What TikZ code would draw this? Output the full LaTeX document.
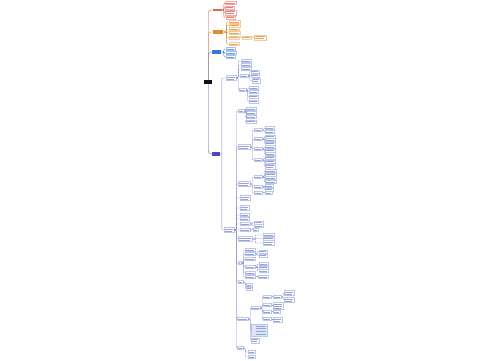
\documentclass[tikz,border=0pt]{standalone}
\usetikzlibrary{calc}
\definecolor{lfc}{HTML}{B9C6EE}
\definecolor{txc}{HTML}{9AA2D2}
\definecolor{cnc}{HTML}{8C8CD6}
\definecolor{rootc}{HTML}{111111}
\definecolor{redc}{HTML}{E0463C}
\definecolor{orc}{HTML}{E8892A}
\definecolor{bluec}{HTML}{3A78D8}
\definecolor{purc}{HTML}{4B4BB8}
\definecolor{listc}{HTML}{DCE5FA}
\tikzset{
  leaf/.style={draw=lfc, line width=0.2pt, inner sep=0pt, minimum height=3pt, anchor=west,
    path picture={\draw[txc,line width=0.6pt] ([xshift=0.8pt]path picture bounding box.west) -- ([xshift=-0.8pt]path picture bounding box.east);}},
  leaftwo/.style={leaf, minimum height=5pt,
    path picture={\draw[txc,line width=0.5pt] ([xshift=0.8pt,yshift=1.1pt]path picture bounding box.west) -- ([xshift=-0.8pt,yshift=1.1pt]path picture bounding box.east)
      ([xshift=0.8pt,yshift=-1.1pt]path picture bounding box.west) -- ([xshift=-2pt,yshift=-1.1pt]path picture bounding box.east);}},
  leafthree/.style={leaf, minimum height=7pt,
    path picture={\draw[txc,line width=0.5pt] ([xshift=0.8pt,yshift=2pt]path picture bounding box.west) -- ([xshift=-0.8pt,yshift=2pt]path picture bounding box.east)
      ([xshift=0.8pt]path picture bounding box.west) -- ([xshift=-0.8pt]path picture bounding box.east)
      ([xshift=0.8pt,yshift=-2pt]path picture bounding box.west) -- ([xshift=-2.5pt,yshift=-2pt]path picture bounding box.east);}},
  listbox/.style={leaf, fill=listc, draw=lfc, minimum height=12pt,
    path picture={\foreach \k in {4.2,1.4,-1.4,-4.2}{\draw[txc,line width=0.5pt] ([xshift=5pt,yshift=\k pt]path picture bounding box.west) -- ([xshift=-1pt,yshift=\k pt]path picture bounding box.east);}}},
  mainbox/.style={inner sep=0pt, minimum height=3.5pt, anchor=west, draw=none},
  conn/.style={draw=cnc, line width=0.35pt, rounded corners=1pt},
}
\newcommand\Lf[5][leaf]{\node[#1,minimum width=#5pt] (#2) at (#3,#4) {};}
\newcommand\Cn[3][2]{\draw[conn] (#2.east) -- ++(#1,0) |- (#3.west);}
\begin{document}
\begin{tikzpicture}[x=1pt,y=-1pt]
\fill[white] (0,0) rectangle (500,360);
\useasboundingbox (0,0) rectangle (500,360);
% root and main branches
\node[mainbox, fill=rootc, minimum width=8pt] (R) at (204,82) {};
\node[mainbox, fill=redc!85, minimum width=9pt, minimum height=2.5pt] (Rd) at (213,10) {};
\node[mainbox, fill=orc, minimum width=10pt] (Or) at (213,32) {};
\node[mainbox, fill=bluec, minimum width=9pt] (Bt) at (212,52) {};
\node[mainbox, fill=purc, minimum width=8pt] (Bf) at (212,154) {};
\draw[conn, draw=redc, rounded corners=3pt] (R.north) |- (Rd.west);
\draw[conn, draw=orc, rounded corners=3pt] (R.north) |- (Or.west);
\draw[conn, draw=bluec, rounded corners=3pt] (R.north) |- (Bt.west);
\draw[conn, draw=purc, rounded corners=3pt] (R.south) |- (Bf.west);
% red branch
\begin{scope}
\colorlet{lfc}{redc!45}\colorlet{txc}{redc!70}\colorlet{cnc}{redc}
\Lf{rc1}{225}{3}{11}
\Lf{rc2}{225}{7.5}{9}
\Lf[leaftwo]{rc3}{225}{12.5}{11}
\Lf{rc4}{226}{17.5}{9}
\foreach \c in {rc1,rc2,rc3,rc4}{\Cn[1.5]{Rd}{\c}}
\end{scope}
% orange branch
\begin{scope}
\colorlet{lfc}{orc!45}\colorlet{txc}{orc!80}\colorlet{cnc}{orc}
\Lf{oc1}{229}{22}{11}
\Lf{oc2}{229}{25.5}{11}
\Lf{oc3}{229}{29}{10}
\Lf{oc4}{229}{33}{11}
\Lf{oc5}{229}{37.5}{10}
\Lf{oc6}{229}{44}{10}
\Lf{oc5a}{242}{37.5}{9}
\Lf[leaftwo]{oc5b}{254}{37.5}{12}
\foreach \c in {oc1,oc2,oc3,oc4,oc5,oc6}{\Cn[3]{Or}{\c}}
\Cn{oc5}{oc5a}
\Cn{oc5a}{oc5b}
\end{scope}
% blue branch
\begin{scope}
\colorlet{lfc}{bluec!45}\colorlet{txc}{bluec!70}\colorlet{cnc}{bluec}
\Lf{b31}{226}{49}{9}
\Lf{b32}{226}{53}{10}
\Lf{b33}{226}{57}{9}
\foreach \c in {b31,b32,b33}{\Cn[2.5]{Bt}{\c}}
\end{scope}
% big branch
\Lf[leaftwo]{A}{226}{78}{10}
\Lf[leaftwo]{B}{224}{230}{10}
\Cn[1.5]{Bf}{A}
\Cn[1.5]{Bf}{B}
% A subtree
\Lf{a1}{241}{61}{10}
\Lf{a2}{241}{65}{10}
\Lf{a3}{241}{69}{10}
\Lf{a4}{240}{76}{8}
\Lf{a5}{239}{90}{7}
\foreach \c in {a1,a2,a3,a4,a5}{\Cn{A}{\c}}
\Lf{a4a}{251}{71.5}{8}
\Lf{a4b}{251}{75.5}{8}
\Lf[leaftwo]{a4c}{252}{80.5}{8}
\foreach \c in {a4a,a4b,a4c}{\Cn[1.5]{a4}{\c}}
\Lf{a5a}{249}{88}{9}
\Lf{a5b}{249}{92}{9}
\Lf{a5c}{249}{96.5}{9}
\Lf{a5d}{249}{101.5}{9}
\foreach \c in {a5a,a5b,a5c,a5d}{\Cn[1.5]{a5}{\c}}
% B subtree
\Lf{b1}{238}{111}{6}
\Lf[leaftwo]{b2}{238}{147}{12}
\Lf[leaftwo]{b3}{238}{184}{12}
\Lf[leaftwo]{b4}{240}{198}{10}
\Lf[leaftwo]{b5}{240}{208}{9}
\Lf{b6}{240}{215}{9}
\Lf{b7}{240}{219}{9}
\Lf{b8}{240}{224}{10}
\Lf{b9}{240}{230}{10}
\Lf[leaftwo]{b10}{238}{239}{14}
\Lf{b11}{238}{263}{3}
\Lf{b12}{238}{282}{5}
\Lf{D}{237}{319}{11}
\Lf{F}{237}{348}{6}
\foreach \c in {b1,b2,b3,b4,b5,b6,b7,b8,b9,b10,b11,b12,D,F}{\Cn{B}{\c}}
% b1
\Lf{b1a}{246}{109}{10}
\Lf{b1b}{246}{113}{10}
\Lf{b1c}{246}{117}{10}
\Lf{b1d}{246}{121.5}{10}
\foreach \c in {b1a,b1b,b1c,b1d}{\Cn{b1}{\c}}
% b2
\Lf{b2a}{254}{130}{8}
\Lf{b2b}{254}{139}{8}
\Lf{b2c}{254}{149}{8}
\Lf{b2d}{254}{160}{8}
\foreach \c in {b2a,b2b,b2c,b2d}{\Cn{b2}{\c}}
\Lf{b2a1}{265}{128}{9}
\Lf{b2a2}{265}{132}{9}
\foreach \c in {b2a1,b2a2}{\Cn{b2a}{\c}}
\Lf{b2b1}{265}{136.5}{10}
\Lf{b2b2}{265}{140}{10}
\Lf{b2b3}{265}{143.5}{10}
\foreach \c in {b2b1,b2b2,b2b3}{\Cn{b2b}{\c}}
\Lf{b2c1}{265}{147}{10}
\Lf{b2c2}{265}{150.5}{10}
\Lf{b2c3}{265}{154}{10}
\foreach \c in {b2c1,b2c2,b2c3}{\Cn{b2c}{\c}}
\Lf{b2d1}{265}{157.5}{10}
\Lf{b2d2}{265}{161.5}{10}
\Lf[leaftwo]{b2d3}{265}{166.5}{10}
\foreach \c in {b2d1,b2d2,b2d3}{\Cn{b2d}{\c}}
% b3
\Lf{b3a}{254}{177}{8}
\Lf{b3b}{254}{187}{8}
\Lf{b3c}{254}{193}{8}
\foreach \c in {b3a,b3b,b3c}{\Cn{b3}{\c}}
\Lf{b3a1}{265}{171}{11}
\Lf{b3a2}{265}{174.5}{11}
\Lf{b3a3}{265}{178}{11}
\Lf{b3a4}{265}{182}{11}
\foreach \c in {b3a1,b3a2,b3a3,b3a4}{\Cn{b3a}{\c}}
\Lf{b3b1}{265}{186}{8}
\Lf{b3b2}{265}{189.5}{8}
\foreach \c in {b3b1,b3b2}{\Cn{b3b}{\c}}
\Lf{b3c1}{265}{193}{7}
\Cn{b3c}{b3c1}
% b8, b9, b10
\Lf{b8a}{254}{222.5}{9}
\Lf{b8b}{254}{226}{9}
\foreach \c in {b8a,b8b}{\Cn{b8}{\c}}
\Lf{b9a}{253}{230}{5}
\Cn{b9}{b9a}
\Lf{b10a}{263}{235}{11}
\Lf{b10b}{263}{238.5}{11}
\Lf[leaftwo]{b10c}{263}{243}{11}
\foreach \c in {b10a,b10b,b10c}{\Cn[3]{b10}{\c}}
% b11
\Lf{c1}{245}{250}{10}
\Lf{c2}{245}{254}{10}
\Lf{c3}{245}{259}{10}
\Lf{c4}{245}{267}{10}
\Lf{c5}{245}{273}{10}
\Lf{c6}{245}{277}{10}
\foreach \c in {c1,c2,c3,c4,c5,c6}{\Cn[2.5]{b11}{\c}}
\Lf{c2a}{259}{251.5}{8}
\Lf{c2b}{259}{255.5}{8}
\foreach \c in {c2a,c2b}{\Cn{c2}{\c}}
\Lf{c4a}{259}{264}{9}
\Lf{c4b}{259}{267.5}{9}
\Lf{c4c}{259}{271}{9}
\foreach \c in {c4a,c4b,c4c}{\Cn{c4}{\c}}
\Lf{c6a}{258}{277}{10}
\Cn{c6}{c6a}
% b12
\Lf{b12a}{246}{285}{6}
\Lf{b12b}{246}{288.5}{6}
\foreach \c in {b12a,b12b}{\Cn{b12}{\c}}
% D subtree
\Lf{C}{251}{308}{9}
\Lf[listbox]{L}{251}{330}{16}
\Lf[leaftwo]{E}{251}{340.5}{8}
\foreach \c in {C,L,E}{\Cn{D}{\c}}
\Lf{e1}{263}{297}{8}
\Lf{e2}{263}{305}{8}
\Lf{e3}{263}{312}{8}
\Lf{e4}{263}{319}{8}
\foreach \c in {e1,e2,e3,e4}{\Cn{C}{\c}}
\Lf{e1a}{273}{297}{8}
\Cn{e1}{e1a}
\Lf[leaftwo]{e1b}{284}{293}{10}
\Lf[leaftwo]{e1c}{284}{300}{10}
\foreach \c in {e1b,e1c}{\Cn{e1a}{\c}}
\Lf[leafthree]{e2a}{273}{306}{10}
\Cn{e2}{e2a}
\Lf{e3a}{273}{312}{7}
\Cn{e3}{e3a}
\Lf[leaftwo]{e4a}{273}{320}{9}
\Cn{e4}{e4a}
% F
\Lf{F1}{248}{352}{7}
\Lf{F2}{248}{357}{7}
\foreach \c in {F1,F2}{\Cn{F}{\c}}
\end{tikzpicture}
\end{document}
